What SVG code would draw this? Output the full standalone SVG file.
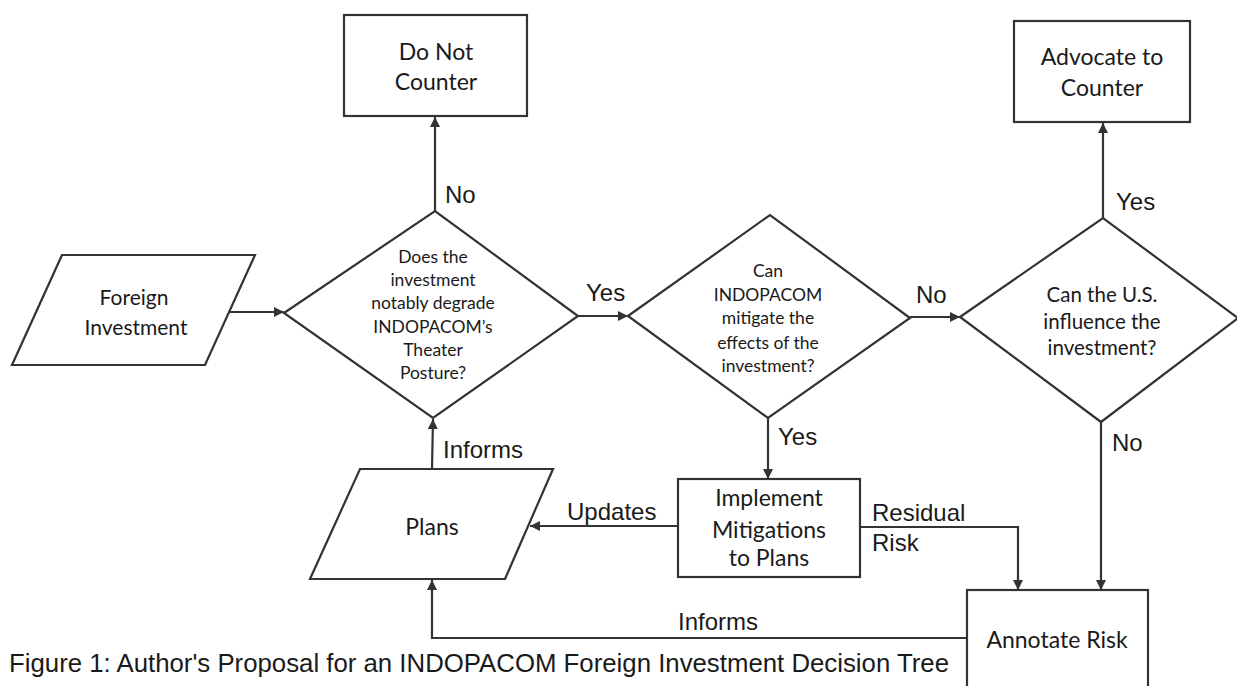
<svg xmlns="http://www.w3.org/2000/svg" width="1237" height="686" viewBox="0 0 1237 686">
<defs>
<marker id="ah" viewBox="0 0 10 10" refX="10" refY="5" markerWidth="10" markerHeight="10" markerUnits="userSpaceOnUse" orient="auto">
<path d="M0,0 L10,5 L0,10 z" fill="#333"/>
</marker>
<style>
.shape{fill:#fff;stroke:#333;stroke-width:2.2}
.conn{fill:none;stroke:#333;stroke-width:2.2;marker-end:url(#ah)}
.nt{font-family:Lato,"Open Sans",sans-serif;fill:#1a1a1a;text-anchor:middle}
.big{font-size:23px}
.dq{font-size:17.5px}
.dq3{font-size:20.5px}
.lbl{font-family:"Liberation Sans",Arial,sans-serif;font-size:24px;fill:#1a1a1a}
.cap{font-family:"Liberation Sans",Arial,sans-serif;font-size:25px;fill:#1a1a1a}
</style>
</defs>
<rect width="1237" height="686" fill="#fff"/>

<g id="connectors">
<path class="conn" d="M229,312 L284,312"/>
<path class="conn" d="M435,211 L435,117"/>
<path class="conn" d="M578,316 L628,316"/>
<path class="conn" d="M910,317 L960,317"/>
<path class="conn" d="M1103,218 L1103,123"/>
<path class="conn" d="M768,418 L768,479"/>
<path class="conn" d="M1101,422 L1101,590"/>
<path class="conn" d="M678,526 L530,526"/>
<path class="conn" d="M860,527 L1018,527 L1018,590"/>
<path class="conn" d="M967,638 L432,638 L432,580"/>
<path class="conn" d="M432,469 L433,419"/>
<text class="lbl" x="445" y="203">No</text>
<text class="lbl" x="586" y="301">Yes</text>
<text class="lbl" x="916" y="303">No</text>
<text class="lbl" x="1116" y="210">Yes</text>
<text class="lbl" x="778" y="445">Yes</text>
<text class="lbl" x="1112" y="451">No</text>
<text class="lbl" x="443" y="458">Informs</text>
<text class="lbl" x="567" y="520">Updates</text>
<text class="lbl" x="872" y="521">Residual</text>
<text class="lbl" x="872" y="551">Risk</text>
<text class="lbl" x="678" y="630">Informs</text>
</g>

<g id="foreign-investment">
<polygon class="shape" points="62,255 255,255 205,365 12,365"/>
<text class="nt" style="font-size:21px" x="134" y="305">Foreign</text>
<text class="nt" style="font-size:21px" x="136" y="335">Investment</text>
</g>

<g id="do-not-counter">
<rect class="shape" x="344" y="15" width="183" height="101"/>
<text class="nt big" x="436" y="60">Do Not</text>
<text class="nt big" x="436" y="90">Counter</text>
</g>

<g id="q-degrade">
<polygon class="shape" points="284,313 435,211 578,316 433,418"/>
<text class="nt dq" x="433" y="263">Does the</text>
<text class="nt dq" x="433" y="286">investment</text>
<text class="nt dq" x="433" y="309">notably degrade</text>
<text class="nt dq" x="433" y="333">INDOPACOM’s</text>
<text class="nt dq" x="433" y="356">Theater</text>
<text class="nt dq" x="433" y="379">Posture?</text>
</g>

<g id="q-mitigate">
<polygon class="shape" points="628,316 770,215 910,318 768,418"/>
<text class="nt dq" x="768" y="277">Can</text>
<text class="nt dq" x="768" y="301">INDOPACOM</text>
<text class="nt dq" x="768" y="324">mitigate the</text>
<text class="nt dq" x="768" y="349">effects of the</text>
<text class="nt dq" x="768" y="372">investment?</text>
</g>

<g id="q-influence">
<polygon class="shape" points="960,317 1103,218 1238,318 1101,422"/>
<text class="nt dq3" x="1102" y="302">Can the U.S.</text>
<text class="nt dq3" x="1102" y="329">influence the</text>
<text class="nt dq3" x="1102" y="355">investment?</text>
</g>

<g id="advocate-to-counter">
<rect class="shape" x="1014" y="21" width="176" height="101"/>
<text class="nt big" x="1102" y="65">Advocate to</text>
<text class="nt big" x="1102" y="96">Counter</text>
</g>

<g id="implement-mitigations">
<rect class="shape" x="678" y="479" width="182" height="98"/>
<text class="nt big" x="769" y="506">Implement</text>
<text class="nt big" x="769" y="538">Mitigations</text>
<text class="nt big" x="769" y="566">to Plans</text>
</g>

<g id="plans">
<polygon class="shape" points="360,469 553,469 505,579 310,579"/>
<text class="nt big" x="432" y="535">Plans</text>
</g>

<g id="annotate-risk">
<rect class="shape" x="967" y="590" width="181" height="110"/>
<text class="nt big" x="1057" y="648">Annotate Risk</text>
</g>

<text class="cap" x="9" y="672" textLength="940" lengthAdjust="spacingAndGlyphs">Figure 1: Author's Proposal for an INDOPACOM Foreign Investment Decision Tree</text>
</svg>
